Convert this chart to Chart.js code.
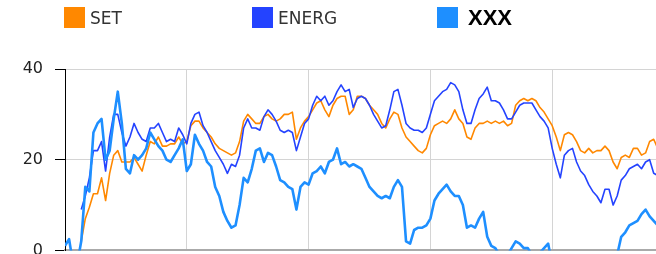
<!DOCTYPE html>
<html>
<head>
<meta charset="utf-8">
<script src="https://cdn.jsdelivr.net/npm/chart.js@4.4.1/dist/chart.umd.min.js"></script>
<style>
  html, body { margin:0; padding:0; background:#fff; overflow:hidden; width:656px; height:254px; }
  #wrap { position:absolute; left:0; top:0; width:680px; height:272px; }
  .lg { position:absolute; top:7px; height:21px; display:flex; align-items:center; white-space:nowrap; }
  .lg .box { width:21px; height:21px; margin-right:5px; }
  .lg span { font-family:"DejaVu Sans", Verdana, sans-serif; font-size:17px; color:#333; }
  .lg span.big { font-family:"Liberation Sans", Arial, sans-serif; font-weight:bold; font-size:22px; color:#000; margin-left:5px; }
</style>
</head>
<body>
<div id="wrap"><canvas id="c"></canvas></div>
<div class="lg" style="left:64px"><div class="box" style="background:#FF8800"></div><span>SET</span></div>
<div class="lg" style="left:252px"><div class="box" style="background:#2443FF"></div><span>ENERG</span></div>
<div class="lg" style="left:437px"><div class="box" style="background:#1E8FFF"></div><span class="big">XXX</span></div>
<script>
const seriesNames = ["SET", "ENERG", "XXX"];
const yTicks = [0, 20, 40];

const SET = [null,null,null,null,2,7,9.5,12.5,12.5,16,11,17,21,22,19.5,19.5,19.5,20.5,19,17.5,
  21,24,23.5,25,23,23,23.5,23.5,25,23.5,24,27.5,28.5,28.5,27,26,25,23.5,22.5,22,
  21.5,21,21.5,24,28.5,30,29,28,28,29.5,30,29,28.5,29,30,30,30.5,24.5,27,28.5,
  29.5,31,32.5,33,31,29.5,32,33.5,34,34,30,31,34,34,33.5,32,31,30,28,27,
  29,30.5,30,27,25,24,23,22,21.5,22.5,25.5,27.5,28,28.5,28,29,31,29,28,25,
  24.5,27,28,28,28.5,28,28.5,28,28.5,27.5,28,32,33,33.5,33,33.5,33,31.5,30.5,29,
  27.5,25,22,25.5,26,25.5,24,22,21.5,22.5,21.5,22,22,23,22,19.5,18,20.5,21,20.5,
  22.5,22.5,21,21.5,24,24.5,22.5,22];

const ENERG = [null,null,null,null,9,12,16,22,22,24,17.5,25,30,30,26,23,25,28,26,24.5,
  24,27,27,28,26,24,24.5,24,27,25.5,23.5,28,30,30.5,27.5,26,24,22,20.5,19,
  17,19,18.5,21,27,29,27,27,26.5,29.5,31,30,28.5,26.5,26,26.5,26,22,25,28,
  29,32,34,33,34,32,33,35,36.5,35,35.5,31.5,33.5,34,33.5,32,30,28.5,27,27.5,
  31,35,35.5,32,28,27,26.5,26.5,26,27,30,33,34,35,35.5,37,36.5,35,31,28,
  28,31,33.5,34.5,36,33,33,32.5,31,29,29,30.5,32,32.5,32.5,32.5,31,29.5,28.5,27,
  22.5,19,16,21,22,22.5,19.5,17.5,16.5,14.5,13,12,10.5,13.5,13.5,10,12,15.5,16.5,18,
  18.5,19,18,19.5,20,17,16.5,17];

const XXX = [1,2.5,-3,-3,2,14,13,26,28,29,20,22,29,35,28,18,17,21,20,21,
  22.5,26,24.5,23,22,20,19.5,21,22.5,24.5,17.5,19,25.5,23.5,22,19.5,18.5,14,12,8.5,
  6.5,5,5.5,10,16,15,18,22,22.5,19.5,21.5,21,18.5,15.5,15,14,13.5,9,14,15,
  14.5,17,17.5,18.5,17,19.5,20,22.5,19,19.5,18.5,19,18.5,18,16,14,13,12,11.5,12,
  11.5,14,15.5,14,2,1.5,4.5,5,5,5.5,7,11,12.5,13.5,14.5,13,12,12,10,5,
  5.5,5,7,8.5,3,1,0.5,-1,-2,-1,0.5,2,1.5,0.5,0.5,-1,-1,-0.5,0.5,1.5,
  -3,-4,-5,-6,-5,-6,-7,-6,-5,-6,-5,-4,-5,-4,-3,-3,-1,3,4,5.5,
  6,6.5,8,9,7.5,6.5,5.5,5];

const colors = { SET:"#FF8800", ENERG:"#2443FF", XXX:"#1E8FFF" };

function toPoints(arr){ return arr.map((v,i)=>({x:i, y:v})); }

new Chart(document.getElementById('c'), {
  type: 'line',
  data: {
    datasets: [
      { label: seriesNames[0], data: toPoints(SET), borderColor: colors.SET, borderWidth: 1.6, order: 2 },
      { label: seriesNames[1], data: toPoints(ENERG), borderColor: colors.ENERG, borderWidth: 1.6, order: 1 },
      { label: seriesNames[2], data: toPoints(XXX), borderColor: colors.XXX, borderWidth: 2.6, order: 0 }
    ]
  },
  options: {
    responsive: true,
    maintainAspectRatio: false,
    devicePixelRatio: 1,
    animation: false,
    events: [],
    layout: { padding: { top: 69, left: 0, right: 6, bottom: 0 } },
    elements: { point: { radius: 0 }, line: { tension: 0, fill: false, borderJoinStyle: 'round' } },
    plugins: { legend: { display: false }, tooltip: { enabled: false } },
    scales: {
      x: {
        type: 'linear', min: 0, max: 150,
        ticks: { display: false, stepSize: 30 },
        grid: { color: '#d4d4d4', lineWidth: 1, drawTicks: false },
        border: { color: '#aaaaaa', width: 2 },
        afterFit: (s) => { s.height = 13; }
      },
      y: {
        min: 0, max: 40,
        afterBuildTicks: (s) => { s.ticks = yTicks.map(v => ({ value: v })); },
        ticks: { padding: 12, color: '#222', font: { family: 'DejaVu Sans', size: 16 } },
        grid: { color: '#d4d4d4', lineWidth: 1, tickLength: 10, tickColor: '#000' },
        border: { color: '#000', width: 1 },
        afterFit: (s) => { s.width = 65; }
      }
    }
  }
});
</script>
</body>
</html>
